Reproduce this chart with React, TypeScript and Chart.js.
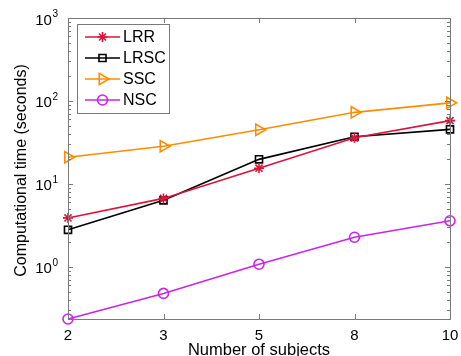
import React, { useEffect, useRef } from 'react';
import { Chart, registerables } from 'chart.js';
import { drawPoint } from 'chart.js/helpers';

Chart.register(...registerables);

const subjects = ['2', '3', '5', '8', '10'];
const lrr = [3.9, 6.7, 15.5, 36, 58];
const lrsc = [2.8, 6.35, 19.8, 37, 45.5];
const ssc = [21, 28.5, 45, 73, 95];
const nsc = [0.236, 0.48, 1.08, 2.28, 3.6];
const yDecades = [0, 1, 2, 3];
const Y_MIN = 0.236;
const Y_MAX = 1000;

const FONT = '"Liberation Sans", Arial, Helvetica, sans-serif';
const AXIS_GRAY = '#7a7a7a';

const decor = {
  id: 'decor',
  afterDraw(chart: any) {
    const ctx: CanvasRenderingContext2D = chart.ctx;
    const { left, right, top, bottom } = chart.chartArea;
    const xs = chart.scales.x;
    const ys = chart.scales.y;
    ctx.save();
    // box
    ctx.strokeStyle = AXIS_GRAY;
    ctx.lineWidth = 1;
    ctx.strokeRect(Math.round(left) + 0.5, Math.round(top) + 0.5, Math.round(right - left), Math.round(bottom - top));
    // y ticks (log)
    ctx.beginPath();
    for (let d = -1; d <= 3; d++) {
      for (let m = 1; m <= 9; m++) {
        const v = m * Math.pow(10, d);
        if (v < Y_MIN * 0.999 || v > Y_MAX * 1.001) continue;
        const y = Math.round(ys.getPixelForValue(v)) + 0.5;
        const len = m === 1 ? 5 : 3;
        ctx.moveTo(left, y);
        ctx.lineTo(left + len, y);
        ctx.moveTo(right, y);
        ctx.lineTo(right - len, y);
      }
    }
    // x ticks
    subjects.forEach((_, i) => {
      const x = Math.round(xs.getPixelForValue(i)) + 0.5;
      ctx.moveTo(x, bottom);
      ctx.lineTo(x, bottom - 5);
      ctx.moveTo(x, top);
      ctx.lineTo(x, top + 5);
    });
    ctx.stroke();

    // y tick labels
    ctx.fillStyle = '#000';
    yDecades.forEach((e) => {
      const y = ys.getPixelForValue(Math.pow(10, e));
      ctx.font = `10px ${FONT}`;
      ctx.textAlign = 'left';
      ctx.textBaseline = 'alphabetic';
      const expW = ctx.measureText(String(e)).width;
      const expX = 58 - expW;
      ctx.fillText(String(e), expX, y - 1);
      ctx.font = `15px ${FONT}`;
      ctx.textAlign = 'right';
      ctx.fillText('10', expX - 0.5, y + 6.5);
    });

    // x tick labels
    ctx.font = `15px ${FONT}`;
    ctx.textAlign = 'center';
    ctx.textBaseline = 'alphabetic';
    subjects.forEach((s, i) => {
      ctx.fillText(s, xs.getPixelForValue(i), 339.5);
    });

    // axis titles
    ctx.font = `16.5px ${FONT}`;
    ctx.fillText('Number of subjects', (left + right) / 2, 355);
    ctx.save();
    ctx.translate(26, 170.5);
    ctx.rotate(-Math.PI / 2);
    ctx.font = `16px ${FONT}`;
    ctx.textAlign = 'center';
    ctx.fillText('Computational time (seconds)', 0, 0);
    ctx.restore();

    // legend
    ctx.fillStyle = '#fff';
    ctx.fillRect(77.5, 24.5, 92, 89);
    ctx.strokeStyle = AXIS_GRAY;
    ctx.lineWidth = 1;
    ctx.strokeRect(77.5, 24.5, 92, 89);
    chart.data.datasets.forEach((ds: any, i: number) => {
      const y = 37 + i * 21;
      ctx.strokeStyle = ds.borderColor;
      ctx.lineWidth = ds.borderWidth;
      ctx.beginPath();
      ctx.moveTo(85, y);
      ctx.lineTo(120, y);
      ctx.stroke();
      ctx.fillStyle = 'rgba(0,0,0,0)';
      ctx.lineWidth = ds.pointBorderWidth;
      drawPoint(ctx, {
        pointStyle: ds.pointStyle,
        rotation: ds.pointRotation || 0,
        radius: ds.pointRadius,
        borderWidth: ds.pointBorderWidth,
      } as any, 102.5, y);
      ctx.fillStyle = '#000';
      ctx.font = `16px ${FONT}`;
      ctx.textAlign = 'left';
      ctx.textBaseline = 'middle';
      ctx.fillText(ds.label, 123, y + 1);
    });
    ctx.restore();
  },
};

export default function App() {
  const ref = useRef<HTMLCanvasElement>(null);
  useEffect(() => {
    if (!ref.current) return;
    const common = {
      backgroundColor: 'rgba(0,0,0,0)',
      borderWidth: 1.6,
      pointBorderWidth: 1.6,
      fill: false,
      tension: 0,
      clip: false as any,
    };
    const chart = new Chart(ref.current, {
      type: 'line',
      data: {
        labels: subjects,
        datasets: [
          { ...common, label: 'LRR', data: lrr, borderColor: '#dc143c', pointBorderColor: '#dc143c', pointStyle: 'star', pointRadius: 5 },
          { ...common, label: 'LRSC', data: lrsc, borderColor: '#000000', pointBorderColor: '#000000', pointStyle: 'rect', pointRadius: 5 },
          { ...common, label: 'SSC', data: ssc, borderColor: '#ff8c00', pointBorderColor: '#ff8c00', pointStyle: 'triangle', pointRotation: 90, pointRadius: 6.5 },
          { ...common, label: 'NSC', data: nsc, borderColor: '#cc22ee', pointBorderColor: '#cc22ee', pointStyle: 'circle', pointRadius: 5 },
        ] as any,
      },
      options: {
        animation: false,
        responsive: false,
        events: [],
        layout: { padding: { top: 18, right: 11, left: 0, bottom: 0 } },
        plugins: { legend: { display: false }, tooltip: { enabled: false } },
        scales: {
          x: {
            type: 'category',
            offset: false,
            grid: { display: false },
            border: { display: false },
            ticks: { display: false },
            afterFit: (s: any) => { s.height = 37; },
          },
          y: {
            type: 'logarithmic',
            min: Y_MIN,
            max: Y_MAX,
            grid: { display: false },
            border: { display: false },
            ticks: { display: false },
            afterFit: (s: any) => { s.width = 68; },
          },
        },
      },
      plugins: [decor],
    });
    return () => chart.destroy();
  }, []);
  return (
    <div style={{ position: 'absolute', left: 0, top: 0, width: 461, height: 356, background: '#fff' }}>
      <canvas ref={ref} width={461} height={356} />
    </div>
  );
}
